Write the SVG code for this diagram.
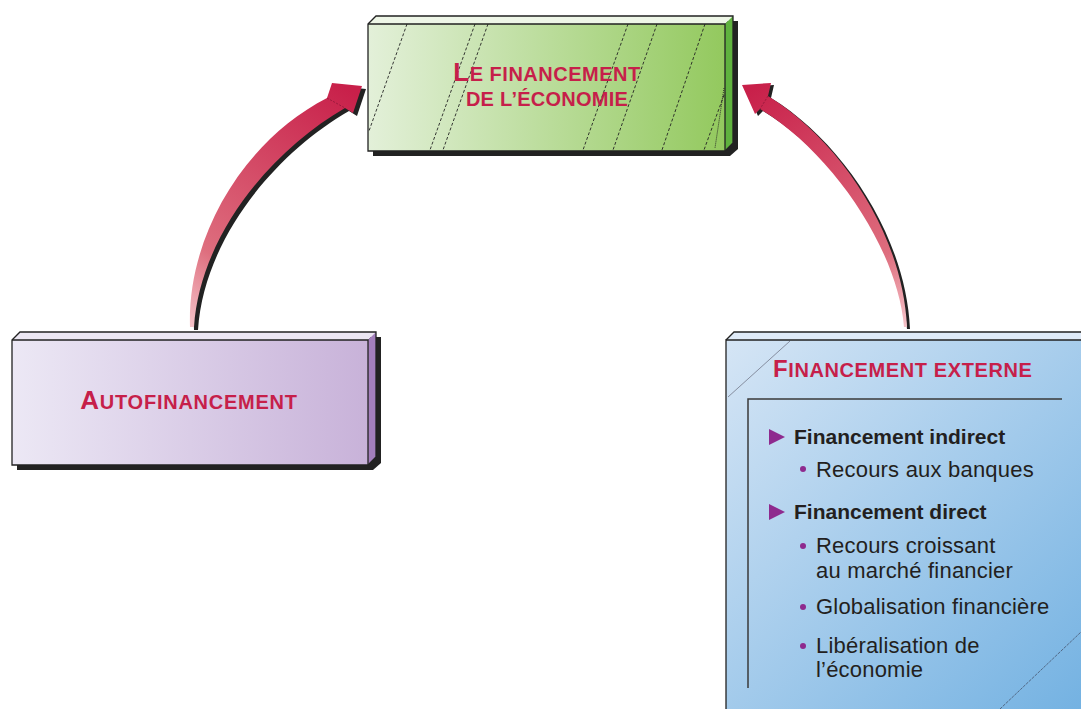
<svg xmlns="http://www.w3.org/2000/svg" width="1081" height="709" viewBox="0 0 1081 709">
<defs>
<linearGradient id="gGreen" x1="0" y1="0" x2="1" y2="0">
<stop offset="0" stop-color="#e3f0d9"/><stop offset="1" stop-color="#93c95e"/>
</linearGradient>
<linearGradient id="gPurple" x1="0" y1="0" x2="1" y2="0">
<stop offset="0" stop-color="#ece8f5"/><stop offset="1" stop-color="#c8b2d9"/>
</linearGradient>
<linearGradient id="gBlue" x1="726" y1="340" x2="1081" y2="709" gradientUnits="userSpaceOnUse">
<stop offset="0" stop-color="#d5e5f5"/><stop offset="1" stop-color="#74b2e2"/>
</linearGradient>
<linearGradient id="gArrowL" x1="192" y1="327" x2="350" y2="90" gradientUnits="userSpaceOnUse">
<stop offset="0" stop-color="#f6c3c9"/><stop offset="0.25" stop-color="#de6e7e"/><stop offset="1" stop-color="#c8204a"/>
</linearGradient>
<linearGradient id="gArrowR" x1="906" y1="327" x2="750" y2="90" gradientUnits="userSpaceOnUse">
<stop offset="0" stop-color="#f6c3c9"/><stop offset="0.25" stop-color="#de6e7e"/><stop offset="1" stop-color="#c8204a"/>
</linearGradient>
</defs>
<style>
.outline{fill:none;stroke:#222;stroke-width:1.3;stroke-linejoin:miter}
.shadow{fill:#222}
.title{font-family:"Liberation Sans",Arial,sans-serif;font-weight:bold;fill:#c61f4a}
.dash{stroke:#222;stroke-width:0.9;stroke-dasharray:3 2;fill:none}
.bold{font-family:"Liberation Sans",Arial,sans-serif;font-weight:bold;font-size:21px;fill:#231f20}
.reg{font-family:"Liberation Sans",Arial,sans-serif;font-size:22px;fill:#231f20;letter-spacing:0.2px}
.dot{fill:#8e2a8e}
.tri{fill:#8e2a8e}
</style>
<rect x="0" y="0" width="1081" height="709" fill="#ffffff"/>

<g id="connectors">
<g id="arrow-left">
<path class="shadow" transform="translate(4,3)" d="M190,327 C187,235 245,140 327,98 L332,83 L362,86 L353,113 L345,108 C272,150 200,235 194,327 Z"/>
<path fill="url(#gArrowL)" d="M190,327 C187,235 245,140 327,98 L332,83 L362,86 L353,113 L345,108 C272,150 200,235 194,327 Z"/>
<line x1="327" y1="98" x2="345" y2="108" stroke="#7a1030" stroke-width="0.6" stroke-dasharray="2 1.5"/>
</g>
<g id="arrow-right">
<path class="shadow" transform="translate(3,2)" d="M768,96 C840,140 903,235 907,327 L904,327 C898,250 832,152 760,109 L755,114 L742,85 L771,83 Z"/>
<path fill="url(#gArrowR)" d="M768,96 C840,140 903,235 907,327 L904,327 C898,250 832,152 760,109 L755,114 L742,85 L771,83 Z"/>
<line x1="768" y1="96" x2="760" y2="109" stroke="#7a1030" stroke-width="0.6" stroke-dasharray="2 1.5"/>
</g>
</g>

<g id="node-financement">
<polygon class="shadow" points="373,29 381,21 738,21 738,149 730,156 373,156"/>
<rect x="368" y="24" width="357" height="127" fill="url(#gGreen)"/>
<polygon points="368,24 376,16 733,16 725,24" fill="#eef6e7"/>
<polygon points="725,24 733,16 733,143 725,151" fill="#5fb23e"/>
<g class="dash">
<line x1="407" y1="24" x2="369" y2="131"/>
<line x1="475" y1="24" x2="430" y2="150"/>
<line x1="488" y1="24" x2="443" y2="150"/>
<line x1="628" y1="24" x2="583" y2="150"/>
<line x1="657" y1="24" x2="613" y2="150"/>
<line x1="705" y1="24" x2="662" y2="150"/>
<line x1="724" y1="95" x2="704" y2="150"/>
<line x1="724" y1="88" x2="715" y2="148" stroke-dasharray="1 1"/>
</g>
<polyline class="outline" points="725,151 725,24 368,24"/>
<polygon class="outline" points="368,24 376,16 733,16 733,143 725,151 368,151"/>
<text class="title" x="547" y="81" text-anchor="middle" font-size="20" letter-spacing="0.5"><tspan font-size="26">L</tspan>E FINANCEMENT</text>
<text class="title" x="547" y="106" text-anchor="middle" font-size="20" letter-spacing="0.25">DE L’ÉCONOMIE</text>
</g>

<g id="node-autofinancement">
<polygon class="shadow" points="17,345 25,337 381,337 381,463 373,470 17,470"/>
<rect x="12" y="340" width="356" height="125" fill="url(#gPurple)"/>
<polygon points="12,340 20,332 376,332 368,340" fill="#ebe6f2"/>
<polygon points="368,340 376,332 376,457 368,465" fill="#a37fbc"/>
<polyline class="outline" points="368,465 368,340 12,340"/>
<polygon class="outline" points="12,340 20,332 376,332 376,457 368,465 12,465"/>
<text class="title" x="189" y="409" text-anchor="middle" font-size="20" letter-spacing="0.75"><tspan font-size="26">A</tspan>UTOFINANCEMENT</text>
</g>

<g id="node-externe">
<rect x="726" y="340" width="360" height="375" fill="url(#gBlue)"/>
<polygon points="726,340 734,332 1090,332 1090,340" fill="#dfeaf7"/>
<polyline class="outline" points="726,720 726,340 1090,340"/>
<polyline class="outline" points="726,340 734,332 1090,332"/>
<line x1="728" y1="397" x2="790" y2="341" stroke="#556" stroke-width="0.6"/>
<line x1="1000" y1="709" x2="1081" y2="632" stroke="#334" stroke-width="0.6" stroke-dasharray="3 1"/>
<polyline points="1062,399 748,399 748,688" fill="none" stroke="#3a3a3a" stroke-width="1.5"/>
<text class="title" x="773" y="377" font-size="20" letter-spacing="0.6"><tspan font-size="24">F</tspan>INANCEMENT EXTERNE</text>
<polygon class="tri" points="769,429 785,437 769,445"/>
<text class="bold" x="794" y="444">Financement indirect</text>
<circle class="dot" cx="803" cy="469" r="3"/>
<text class="reg" x="816" y="477">Recours aux banques</text>
<polygon class="tri" points="769,504 785,512 769,520"/>
<text class="bold" x="794" y="519">Financement direct</text>
<circle class="dot" cx="803" cy="546" r="3"/>
<text class="reg" x="816" y="553">Recours croissant</text>
<text class="reg" x="816" y="578">au marché financier</text>
<circle class="dot" cx="803" cy="607" r="3"/>
<text class="reg" x="816" y="614">Globalisation financière</text>
<circle class="dot" cx="803" cy="646" r="3"/>
<text class="reg" x="816" y="653">Libéralisation de</text>
<text class="reg" x="816" y="677">l’économie</text>
</g>
</svg>
